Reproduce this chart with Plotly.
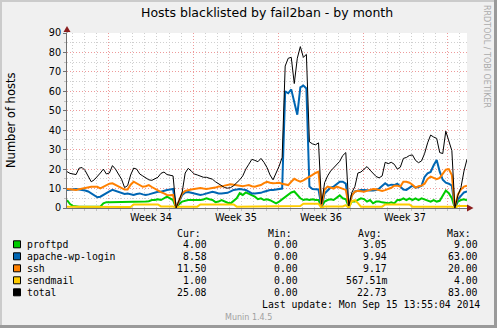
import pandas as pd
import plotly.graph_objects as go

# ---------------- data ----------------
END = pd.Timestamp("2014-09-15 13:55:04")
START = END - pd.Timedelta(days=33)
times = pd.date_range(start=START, periods=133, freq="6h")

proftpd = [4, 2, 1, 0.7, 0.7, 0.7, 0.7, 0.5, 0.5, 0.7,
           0.7, 0.7, 2.4, 3, 3, 3, 3, 3.3, 3.3, 3,
           3, 3.3, 3, 3, 3.3, 3.3, 3.3, 3.5, 4.1, 4.1,
           4.5, 4.1, 5, 5.8, 5, 4.1, 0, 2, 3.3, 3.8,
           4.1, 4.1, 4.1, 3.8, 4.1, 4.4, 5, 4.5, 4.1, 3,
           3.3, 4.1, 3.3, 2.7, 2.4, 3.8, 5, 7.6, 6.7, 8,
           7.2, 6.7, 5.8, 4.5, 5, 4.1, 4.5, 4, 3.3, 2.4,
           3.3, 4.5, 5.8, 6.7, 8, 8.5, 6.5, 5, 4.1, 4.5,
           4.1, 4.5, 4.1, 4.1, 0.5, 3.3, 4.1, 4.5, 4.1, 5.5,
           6.5, 5, 4.5, 0.5, 3.5, 3.3, 4.1, 5, 4.6, 3.3,
           4.1, 2.4, 3.3, 3.3, 2.9, 2.6, 2.4, 2.9, 2.4, 4.1,
           4.1, 5, 4.1, 5, 4.1, 5, 4.1, 5, 4.5, 4.1,
           3.3, 4.1, 3.3, 3.7, 6.7, 9, 7.6, 5, 0, 3.3,
           4.1, 4.5, 4]

apache = [9.3, 9.5, 9.8, 9.8, 9.5, 9.3, 9, 8.5, 7.5, 6.2,
          5.5, 5.8, 6.8, 7.5, 8.5, 9.3, 8.8, 8.2, 7.5, 7.2,
          7.5, 7.2, 6.7, 7.2, 7.5, 7, 6.7, 7, 7.5, 8,
          8.4, 8.4, 9, 9.3, 9.5, 9.8, 0, 3.5, 6.7, 8,
          8.2, 7.8, 7.5, 7, 6.7, 7, 7.5, 8, 8.4, 8,
          7.5, 7.5, 7.5, 7.8, 8.5, 9.3, 9.5, 9.8, 9.5, 9.3,
          8.4, 7.5, 7.5, 7.5, 7.8, 8.4, 8.8, 9.3, 9.3, 9.5,
          9.8, 10, 60, 59, 61, 55, 48, 62, 63, 61.5,
          11, 9.8, 9.8, 9.5, 0.5, 7.5, 9, 10.5, 11, 12.5,
          13.5, 13.5, 12.5, 0.5, 6.5, 8.5, 9, 9.2, 9.3, 9,
          9, 9, 9.3, 10, 11.5, 12.7, 11.5, 12, 11.8, 12.5,
          11, 9.5, 9.3, 10.5, 11.5, 10.5, 10.8, 11.5, 16, 17.8,
          18.5, 22, 24.7, 18.7, 14.5, 13, 12.5, 11.5, 0, 4.5,
          6, 8, 8.58]

ssh = [9.8, 9.6, 9.3, 9.3, 9.6, 10, 10.1, 10.5, 10.9, 10.9,
       10.9, 10.1, 11, 11.8, 12.5, 12.7, 12, 11.2, 10.2, 9.5,
       9.5, 12, 13.5, 12.7, 11.5, 10.9, 11.2, 11.8, 10.8, 9.8,
       9, 8.2, 7.5, 6.7, 6.5, 6.7, 0, 4, 7.5, 8.8,
       9.3, 9.5, 9.8, 10, 10.3, 10, 9.8, 10, 10.2, 10.5,
       11, 11, 11.5, 12, 12.2, 12, 11.8, 11.5, 11.2, 11.5,
       11.8, 11.2, 10.9, 11.4, 11.8, 12.8, 13.5, 13, 12.7, 12.8,
       13, 12.5, 12, 11.8, 13.5, 15, 14.2, 13.5, 14.2, 15,
       15.8, 17, 18, 18.7, 1, 9.5, 11, 10.5, 10, 11,
       10.5, 10, 9.3, 1, 6.5, 8.4, 8.8, 8.6, 8.4, 8.8,
       9.3, 9.8, 9.6, 9, 8.8, 9.2, 9.8, 10.4, 11.5, 11.5,
       11, 13.5, 13.5, 13, 12, 10.5, 11.2, 11.5, 12.5, 15,
       16.1, 15.5, 14.8, 15.5, 17.5, 19.7, 20, 17, 0, 7,
       9.5, 11, 11.5]

sendmail = [0.7, 0.7, 0.7, 0.7, 0.7, 0.7, 0.7, 0.7, 0.7, 0.7,
            0.7, 0.5, 0.5, 0.5, 0.5, 0.5, 0.5, 0.5, 0.5, 0.5,
            0.5, 0.5, 1.8, 1.8, 1.8, 1.8, 1.8, 1.8, 1.8, 1.8,
            1.8, 0.8, 0.8, 0.8, 0.8, 0.8, 0, 0.7, 0.7, 0.7,
            0.7, 0.7, 0.7, 0.7, 1.8, 1.8, 1.8, 1.8, 1.8, 1.8,
            1.8, 1.8, 1.8, 1.8, 1.8, 1.8, 0.7, 0.7, 0.7, 0.7,
            0.7, 0.7, 0.7, 0.7, 0.7, 0.7, 0.7, 0.7, 0.7, 0.7,
            0.7, 1, 1, 1, 1, 1, 1, 1, 2.2, 2.2,
            2.2, 2.2, 2.2, 2.2, 0, 0.8, 0.8, 0.8, 0.8, 0.8,
            0.8, 0.8, 1.5, 0, 3.5, 4, 2.5, 0.7, 0.7, 0.7,
            0.7, 0.7, 0.7, 0.7, 0.7, 1.8, 1.8, 1.8, 1.8, 1.8,
            1.8, 1.8, 1.8, 1.8, 0.7, 0.7, 0.7, 0.7, 0.7, 0.7,
            0.7, 0.7, 0.7, 0.7, 0.7, 0.7, 0.7, 0.7, 0, 1,
            1, 1, 1]

total = [18.7, 17.8, 17.5, 17.2, 20.5, 20.8, 19.2, 16.5, 13.5, 14.5,
         16.1, 18, 20, 17.5, 18, 21.8, 20, 17.5, 14.8, 10.5,
         11.5, 17, 20.5, 20, 17.5, 16.5, 15.5, 14.5, 14.2, 15,
         15.8, 17.8, 18.5, 17.2, 16.8, 16.5, 0, 4, 8, 18,
         20.4, 19, 17.5, 17, 16.5, 15.8, 15.8, 15.3, 14.8, 13.5,
         12.5, 11.2, 10.5, 10.2, 10.5, 11.5, 12.8, 14.5, 16.5, 20,
         22.5, 25, 24.5, 23.8, 25.5, 23.5, 20.8, 17, 14.5, 18,
         21.5, 26, 73, 77, 77.5, 64, 77, 83, 77.5, 79,
         34, 33, 32.5, 33.5, 2, 13, 16.5, 19, 20.5, 22.3,
         24, 27, 28.5, 1, 8, 11, 18, 18.5, 20, 21.3,
         19.5, 18, 16.2, 15.5, 16.5, 23.5, 22.8, 23.5, 22.5, 20,
         21, 25.5, 26, 27, 27.3, 24.5, 23.3, 24.2, 28, 33.5,
         37.5, 36.5, 35.8, 28.5, 28, 39.5, 34.5, 29.5, 0, 6.5,
         10.5, 19, 25.08]

series_names = ["proftpd", "apache-wp-login", "ssh", "sendmail", "total"]
series_colors = ["#00CC00", "#0066B3", "#FF8000", "#FFCC00", "#000000"]
series_widths = [2, 2, 2, 2, 1]
series_values = [proftpd, apache, ssh, sendmail, total]

cur_vals = ["4.00", "8.58", "11.50", "1.00", "25.08"]
min_vals = ["0.00", "0.00", "0.00", "0.00", "0.00"]
avg_vals = ["3.05", "9.94", "9.17", "567.51m", "22.73"]
max_vals = ["9.00", "63.00", "20.00", "4.00", "83.00"]

week_starts = pd.to_datetime(["2014-08-17", "2014-08-24", "2014-08-31",
                              "2014-09-07", "2014-09-14"])
week_labels = ["Week 34", "Week 35", "Week 36", "Week 37"]

TITLE = "Hosts blacklisted by fail2ban - by month"
YTITLE = "Number of hosts"
LAST_UPDATE = "Last update: Mon Sep 15 13:55:04 2014"

# ---------------- geometry helpers ----------------
W, H = 497, 328
L, R, T, B = 67, 467, 33, 208


def px(x):
    return (x - L) / (R - L)


def py(y):
    return (B - y) / (B - T)


SANS = "DejaVu Sans"
MONO = "DejaVu Sans Mono"
RED_GRID = "#EE9A9A"
GREY_GRID = "#CFCFCF"
DOT = "1px,2px"

fig = go.Figure()
for name, vals, col, w in zip(series_names, series_values, series_colors, series_widths):
    fig.add_trace(go.Scatter(x=times, y=vals, mode="lines", name=name,
                             line=dict(color=col, width=w),
                             hoverinfo="skip", showlegend=False))

ann = []


def text(x, y, s, size, family=SANS, color="#000000", xanchor="left", angle=0):
    ann.append(dict(x=px(x), y=py(y), xref="paper", yref="paper", text=s,
                    showarrow=False, xanchor=xanchor, yanchor="middle",
                    borderpad=0, borderwidth=0, textangle=angle,
                    font=dict(family=family, size=size, color=color)))


text(267, 13, TITLE, 12.5, xanchor="center")
text(11, 120, YTITLE, 11.5, xanchor="center", angle=-90)
text(487, 56, "RRDTOOL / TOBI OETIKER", 8, color="#ABABAB", xanchor="center", angle=90)

# week labels centred in each week
for ws, lab in zip(week_starts[:-1], week_labels):
    mid = ws + pd.Timedelta(hours=84)
    ann.append(dict(x=mid, y=py(217), xref="x", yref="paper", text=lab,
                    showarrow=False, xanchor="center", yanchor="middle",
                    borderpad=0, borderwidth=0,
                    font=dict(family=SANS, size=9.7, color="#000000")))

# legend table
MS = 9.8
text(176.5, 233, "Cur:", MS, MONO)
text(267.7, 233, "Min:", MS, MONO)
text(358.3, 233, "Avg:", MS, MONO)
text(447.3, 233, "Max:", MS, MONO)

shapes = []
for i, name in enumerate(series_names):
    yc = 244.3 + 12 * i
    shapes.append(dict(type="rect", xref="paper", yref="paper",
                       x0=px(13.5), x1=px(20.5), y0=py(yc + 3.5), y1=py(yc - 3.5),
                       fillcolor=series_colors[i], line=dict(color="#000000", width=1)))
    text(26.5, yc, name, MS, MONO)
    text(206.5, yc, cur_vals[i], MS, MONO, xanchor="right")
    text(297.5, yc, min_vals[i], MS, MONO, xanchor="right")
    text(387, yc, avg_vals[i], MS, MONO, xanchor="right")
    text(477.5, yc, max_vals[i], MS, MONO, xanchor="right")

text(262, 304, LAST_UPDATE, MS, MONO)
text(225, 317, "Munin 1.4.5", 8, SANS, color="#A0A0A0")

# frame (3D border)
shapes += [
    dict(type="rect", xref="paper", yref="paper", x0=px(0), x1=px(W), y0=py(0), y1=py(2),
         fillcolor="#CBCBCB", line=dict(width=0), layer="above"),
    dict(type="rect", xref="paper", yref="paper", x0=px(0), x1=px(2), y0=py(0), y1=py(H),
         fillcolor="#CBCBCB", line=dict(width=0), layer="above"),
    dict(type="rect", xref="paper", yref="paper", x0=px(0), x1=px(W), y0=py(H - 3), y1=py(H),
         fillcolor="#9A9A9A", line=dict(width=0), layer="above"),
    dict(type="rect", xref="paper", yref="paper", x0=px(W - 3), x1=px(W), y0=py(0), y1=py(H),
         fillcolor="#9A9A9A", line=dict(width=0), layer="above"),
]

# axis extensions and arrows
ARROW = "#8B1E1E"
shapes += [
    dict(type="line", xref="paper", yref="paper", x0=px(67), x1=px(67), y0=py(33), y1=py(29),
         line=dict(color="#707070", width=1)),
    dict(type="line", xref="paper", yref="paper", x0=px(467), x1=px(469), y0=py(208), y1=py(208),
         line=dict(color="#707070", width=1)),
    dict(type="path", xref="paper", yref="paper",
         path=f"M {px(63.5)},{py(32)} L {px(70.5)},{py(32)} L {px(67)},{py(26)} Z",
         fillcolor=ARROW, line=dict(width=0)),
    dict(type="path", xref="paper", yref="paper",
         path=f"M {px(467)},{py(204.5)} L {px(467)},{py(211.5)} L {px(473.5)},{py(208)} Z",
         fillcolor=ARROW, line=dict(width=0)),
]

fig.update_layout(
    width=W, height=H,
    margin=dict(l=L, r=W - R, t=T, b=H - B, pad=0),
    paper_bgcolor="#F0F0F0", plot_bgcolor="#FFFFFF",
    showlegend=False,
    annotations=ann, shapes=shapes,
    xaxis=dict(type="date", range=[START, END], tickmode="array",
               tickvals=week_starts, ticktext=[""] * len(week_starts),
               showticklabels=False,
               showgrid=True, gridcolor=RED_GRID, griddash=DOT, gridwidth=1,
               ticks="outside", ticklen=3, tickcolor="#FF7070",
               showline=True, linecolor="#707070", linewidth=1, zeroline=False,
               minor=dict(tickmode="linear", tick0="2014-08-14", dtick=86400000,
                          showgrid=True, gridcolor=GREY_GRID, griddash=DOT,
                          ticks="outside", ticklen=2, tickcolor="#C0C0C0")),
    yaxis=dict(range=[0, 90], tickmode="linear", tick0=0, dtick=10,
               showgrid=True, gridcolor=RED_GRID, griddash=DOT, gridwidth=1,
               ticks="outside", ticklen=3, tickcolor="#707070",
               tickfont=dict(family=SANS, size=9.7, color="#000000"),
               showline=True, linecolor="#707070", linewidth=1, zeroline=False,
               minor=dict(tickmode="linear", tick0=0, dtick=5,
                          showgrid=True, gridcolor=GREY_GRID, griddash=DOT,
                          ticks="outside", ticklen=2, tickcolor="#C0C0C0")),
)

fig.write_html("out.html")
